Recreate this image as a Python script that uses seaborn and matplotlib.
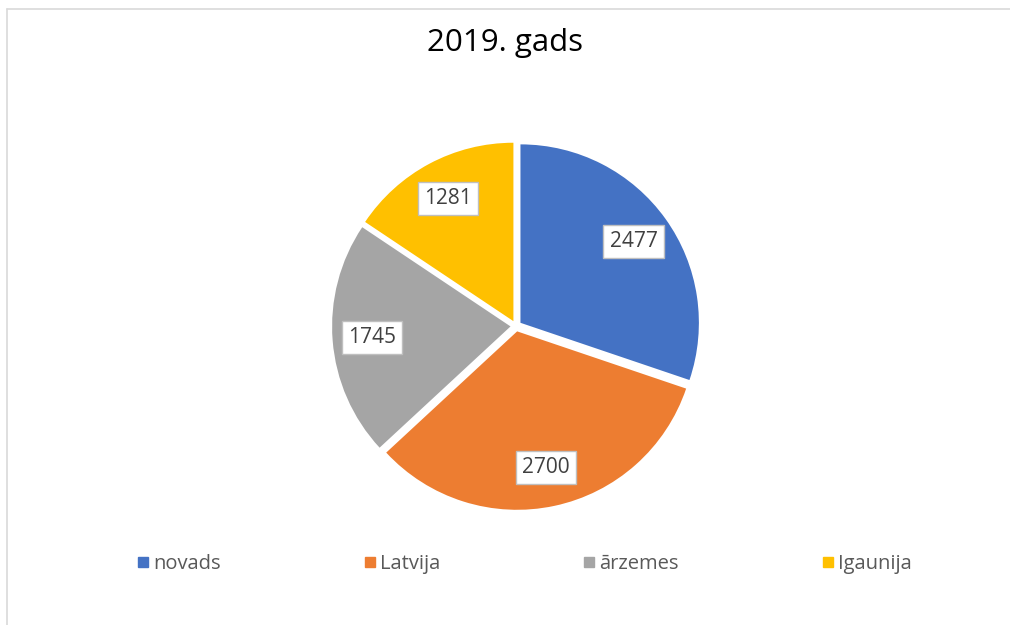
import matplotlib
matplotlib.use("Agg")
import matplotlib.pyplot as plt  # noqa: E402
from matplotlib.lines import Line2D  # noqa: E402
import seaborn as sns  # noqa: E402

# data
categories = ["novads", "Latvija", "ārzemes", "Igaunija"]
values = [2477, 2700, 1745, 1281]
title = "2019. gads"

sns.set_theme(style="white")
plt.rcParams["font.family"] = ["Open Sans", "DejaVu Sans"]

colors = ["#4472C4", "#ED7D31", "#A5A5A5", "#FFC000"]

W, H = 1010, 625
fig = plt.figure(figsize=(W / 100, H / 100), dpi=100)
fig.patch.set_facecolor("white")

# pie axes: centre ~ (515, 326), radius ~180 px
r_px = 183
span = 2.2 * r_px
ax = fig.add_axes([(516 - span / 2) / W, (H - 326 - span / 2) / H, span / W, span / H])

wedges, texts = ax.pie(
    values, colors=colors, startangle=90, counterclock=False,
    explode=[0.03] * len(values), labels=[str(v) for v in values],
    labeldistance=0.78, radius=0.975,
    wedgeprops=dict(linewidth=0),
    textprops=dict(fontsize=15, color="#404040", ha="center", va="center"),
)
for t in texts:
    t.set_bbox(dict(boxstyle="square,pad=0.3", facecolor="white",
                    edgecolor="#BFBFBF", linewidth=1))
ax.set_xlim(-1.1, 1.1)
ax.set_ylim(-1.1, 1.1)
ax.set_aspect("equal")
ax.axis("off")

fig.text(0.5, 1 - 43 / H, title, ha="center", va="center",
         fontsize=22.5, color="black")

handles = [Line2D([], [], marker="s", linestyle="", markersize=7,
                  markerfacecolor=c, markeredgecolor=c) for c in colors]
fig.legend(handles, categories, loc="center", bbox_to_anchor=(0.518, 1 - 564 / H),
           ncol=4, frameon=False, fontsize=14.5, columnspacing=7.0,
           handletextpad=0.1, handlelength=0.8,
           labelcolor="#595959")

# chart frame (top and left edges visible)
fig.add_artist(Line2D([7 / W, 1], [1 - 9 / H, 1 - 9 / H], color="#D9D9D9", linewidth=1.2))
fig.add_artist(Line2D([7 / W, 7 / W], [0, 1 - 9 / H], color="#D9D9D9", linewidth=1.2))

fig.savefig("out.png", dpi=100, facecolor="white")
